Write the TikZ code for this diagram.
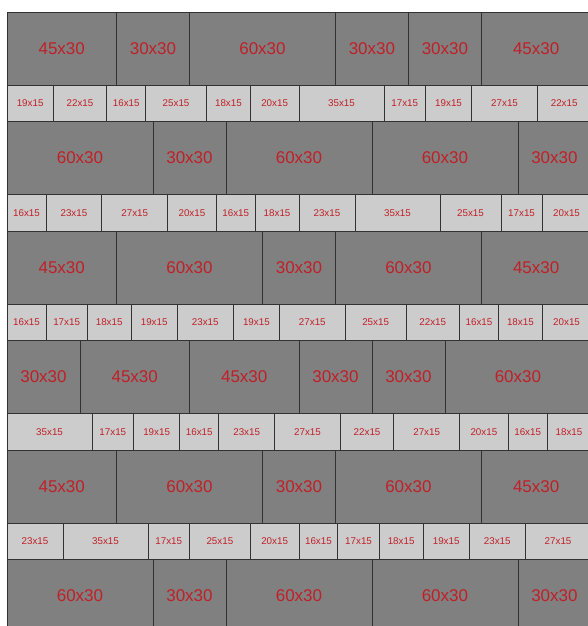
\documentclass[tikz,border=0pt]{standalone}
\usepackage{fontspec}
\setmainfont{Liberation Sans}
\definecolor{cbig}{RGB}{128,128,128}
\definecolor{csmall}{RGB}{204,204,204}
\definecolor{cjoint}{RGB}{50,50,50}
\definecolor{clabel}{RGB}{192,32,40}
\tikzset{
  tile/.style={draw=cjoint, line width=0.8pt, inner sep=0pt, outer sep=0pt, text=clabel, anchor=north west},
  bigtile/.style={tile, fill=cbig, font=\fontsize{17}{17}\selectfont},
  smalltile/.style={tile, fill=csmall, font=\fontsize{9.8}{10}\selectfont},
}
\def\tileu{2.433pt}
\newcommand{\tilerow}[5]{% name, ytop, height, style, widths
  \gdef\xacc{0}%
  \foreach \w [count=\i] in {#5} {%
    \node[#4, minimum width=\w*\tileu, minimum height=#3*\tileu] (#1-\i) at (\xacc*\tileu, -#2*\tileu) {\w x#3};
    \pgfmathsetmacro\xend{\xacc+\w}%
    \xdef\xacc{\xend}%
  }%
}
\begin{document}
\begin{tikzpicture}
\useasboundingbox (0,0) rectangle (588pt,-626pt);
\clip (0,0) rectangle (588pt,-626pt);
\begin{scope}[shift={(7pt,-12pt)}]
\tilerow{ra}{0}{30}{bigtile}{45,30,60,30,30,45}
\tilerow{rb}{30}{15}{smalltile}{19,22,16,25,18,20,35,17,19,27,22}
\tilerow{rc}{45}{30}{bigtile}{60,30,60,60,30}
\tilerow{rd}{75}{15}{smalltile}{16,23,27,20,16,18,23,35,25,17,20}
\tilerow{re}{90}{30}{bigtile}{45,60,30,60,45}
\tilerow{rf}{120}{15}{smalltile}{16,17,18,19,23,19,27,25,22,16,18,20}
\tilerow{rg}{135}{30}{bigtile}{30,45,45,30,30,60}
\tilerow{rh}{165}{15}{smalltile}{35,17,19,16,23,27,22,27,20,16,18}
\tilerow{ri}{180}{30}{bigtile}{45,60,30,60,45}
\tilerow{rj}{210}{15}{smalltile}{23,35,17,25,20,16,17,18,19,23,27}
\tilerow{rk}{225}{30}{bigtile}{60,30,60,60,30}
\end{scope}
\end{tikzpicture}
\end{document}
